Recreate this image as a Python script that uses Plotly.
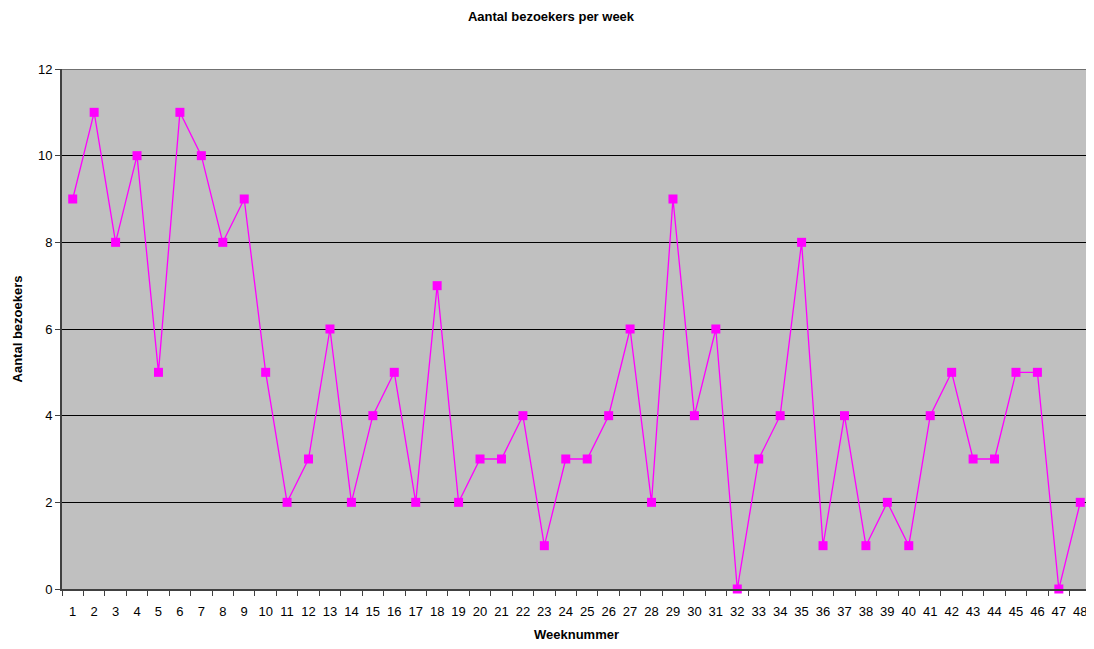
import plotly.graph_objects as go

weeks = [str(i) for i in range(1, 49)]
bezoekers = [9, 11, 8, 10, 5, 11, 10, 8, 9, 5, 2, 3, 6, 2, 4, 5, 2, 7, 2, 3, 3, 4, 1, 3,
             3, 4, 6, 2, 9, 4, 6, 0, 3, 4, 8, 1, 4, 1, 2, 1, 4, 5, 3, 3, 5, 5, 0, 2]
y_ticks = [0, 2, 4, 6, 8, 10, 12]

fig = go.Figure()
fig.add_trace(go.Scatter(
    x=weeks, y=bezoekers, mode="lines+markers",
    line=dict(color="#FF00FF", width=1.3),
    marker=dict(symbol="square", size=9, color="#FF00FF"),
    showlegend=False, cliponaxis=False,
))

font = "Liberation Sans, Arial, sans-serif"
fig.update_layout(
    width=1086, height=641,
    margin=dict(l=54, r=3, t=61, b=60),
    paper_bgcolor="white",
    plot_bgcolor="#C0C0C0",
    font=dict(family=font, size=13, color="black"),
    title=dict(text="<b>Aantal bezoekers per week</b>", x=0.5, xanchor="center",
               yref="container", y=1 - 8 / 641, yanchor="middle", font=dict(size=13, family=font)),
    xaxis=dict(
        type="category", tickson="boundaries", ticks="outside", ticklen=5,
        tickcolor="#404040", showline=True, linecolor="#404040", linewidth=2,
        showgrid=False, tickfont=dict(size=13), tickangle=0, automargin=False,
        ticklabelstandoff=9,
        title=dict(text="<b>Weeknummer</b>", font=dict(size=13), standoff=12),
        range=[-0.5, 47.5],
    ),
    yaxis=dict(
        range=[0, 12], tickvals=y_ticks, ticks="outside", ticklen=5,
        tickcolor="#404040", showline=True, linecolor="#404040", linewidth=2,
        showgrid=True, gridcolor="black", gridwidth=1, zeroline=False,
        tickfont=dict(size=13), automargin=False,
        title=dict(text="<b>Aantal bezoekers</b>", font=dict(size=13), standoff=12),
    ),
    shapes=[dict(type="line", xref="paper", yref="y", x0=0, x1=1, y0=12, y1=12,
                 line=dict(color="#707070", width=2))],
)

fig.write_html("out.html")
